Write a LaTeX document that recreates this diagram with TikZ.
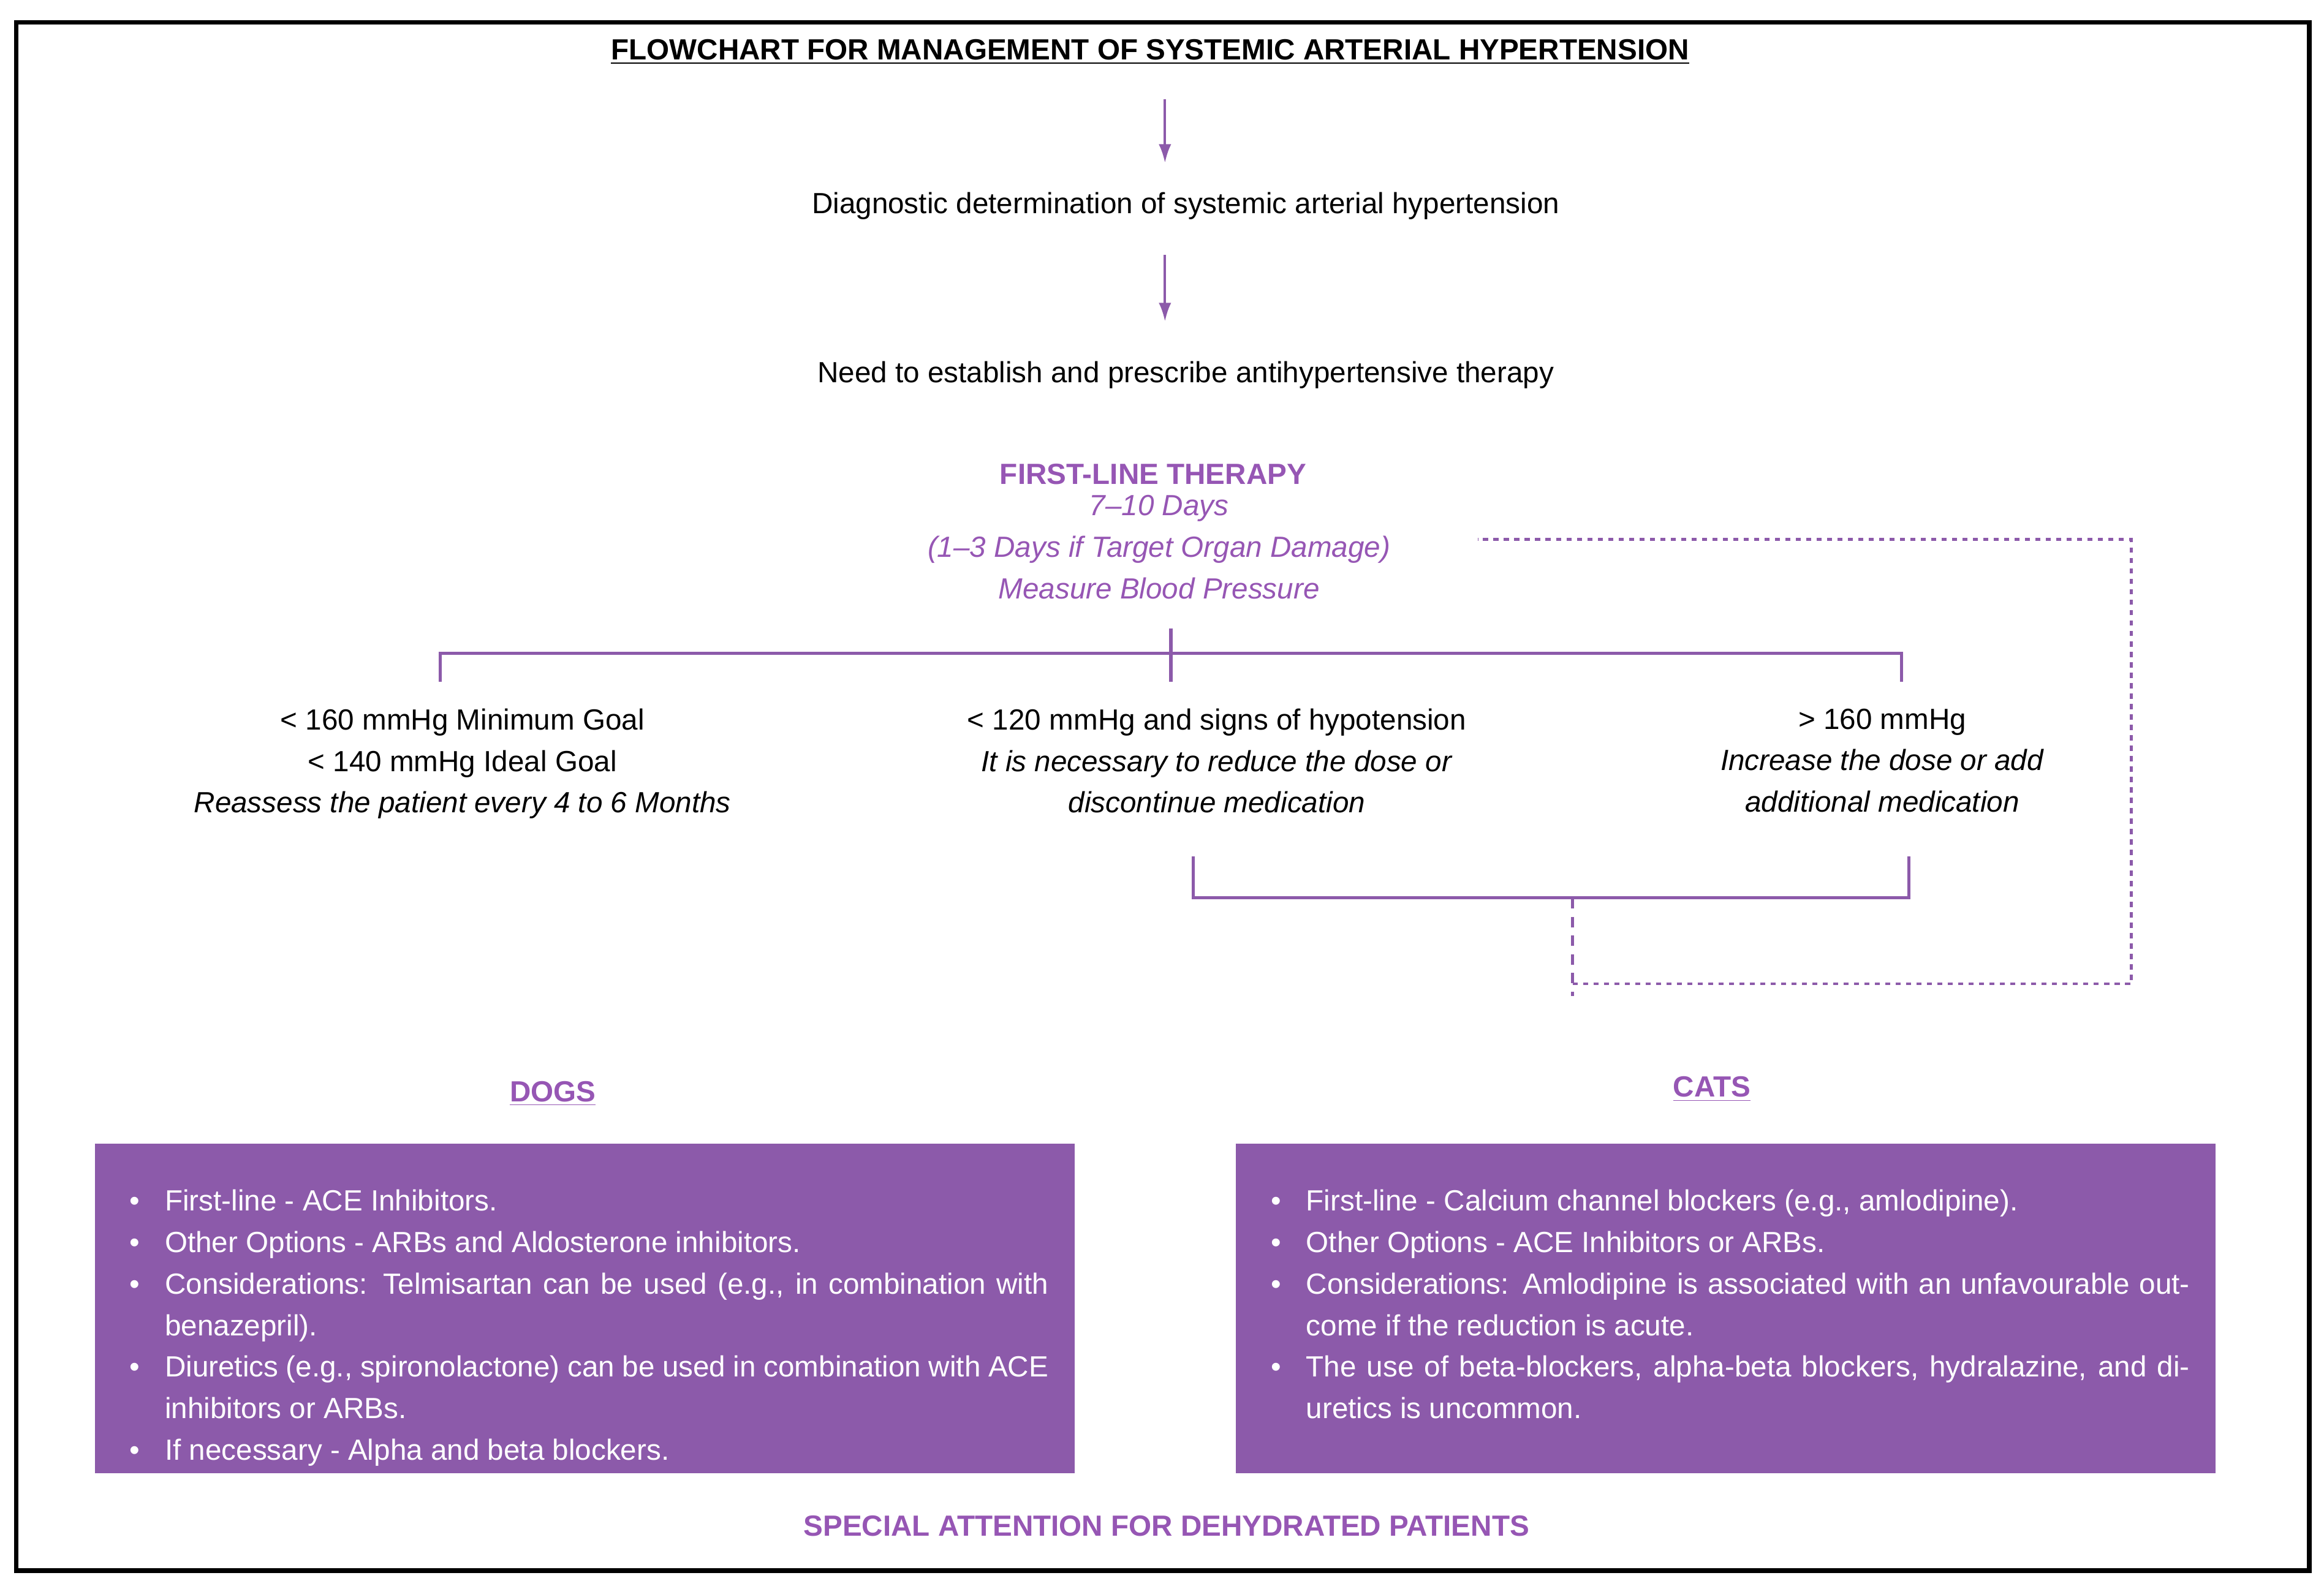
\documentclass[tikz,border=0pt]{standalone}
\usepackage{fontspec}
\setmainfont{Liberation Sans}
\usepackage{enumitem}
\usetikzlibrary{arrows.meta}
\definecolor{pbox}{HTML}{8C5AAA}
\definecolor{ptext}{HTML}{9656B4}
\begin{document}
\begin{tikzpicture}[x=0.025cm,y=-0.025cm,
  txt/.style={align=center,inner sep=0,font=\fontsize{14}{19.9}\selectfont},
  ptx/.style={txt,text=ptext},
  arr/.style={draw=pbox,line width=1.2pt,-{Latex[length=9pt,width=6pt]}},
  ln/.style={draw=pbox,line width=1.5pt},
  dt/.style={draw=pbox,line width=1.3pt,dash pattern=on 2.5pt off 2.5pt},
  dsh/.style={draw=pbox,line width=1.3pt,dash pattern=on 5pt off 4pt},
  box/.style={fill=pbox,draw=none},
  btxt/.style={anchor=north west,inner sep=0,text=white,text width=15.625cm,align=justify,font=\fontsize{14}{19.9}\selectfont}]
\useasboundingbox (0,0) rectangle (1568,1072);
\draw[line width=2.2pt] (11,15) rectangle (1558,1060);
\node[txt,font=\fontsize{14}{19.9}\selectfont\bfseries] (title) at (776,35) {\underline{FLOWCHART FOR MANAGEMENT OF SYSTEMIC ARTERIAL HYPERTENSION}};
\coordinate (a1) at (786,67);
\node[txt] (diag) at (800,139) {Diagnostic determination of systemic arterial hypertension};
\draw[arr] (a1) -- (786,110);
\coordinate (a2) at (786,172);
\draw[arr] (a2) -- (786,217);
\node[txt] (need) at (800,253) {Need to establish and prescribe antihypertensive therapy};
\node[ptx,font=\fontsize{14}{19.9}\selectfont\bfseries] (flt) at (778,320) {FIRST-LINE THERAPY};
\node[ptx,font=\fontsize{14}{19.9}\selectfont\itshape,anchor=north] (days) at (782,334) {7–10 Days\\(1–3 Days if Target Organ Damage)\\Measure Blood Pressure};
\coordinate (hl) at (297,441); \coordinate (hr) at (1283,441);
\coordinate (ct) at (790,424); \coordinate (cb) at (790,460);
\draw[ln] (297,460) -- (hl) -- (hr) -- (1283,460);
\draw[ln] (ct) -- (cb);
\node[txt,anchor=north] (left) at (312,478) {< 160 mmHg Minimum Goal\\< 140 mmHg Ideal Goal\\\textit{Reassess the patient every 4 to 6 Months}};
\node[txt,anchor=north] (mid) at (821,478) {< 120 mmHg and signs of hypotension\\\textit{It is necessary to reduce the dose or}\\\textit{discontinue medication}};
\node[txt,anchor=north] (right) at (1270,478) {> 160 mmHg\\\textit{Increase the dose or add}\\\textit{additional medication}};
\coordinate (bl) at (805,578); \coordinate (br) at (1288,578);
\draw[ln] (bl) -- (805,606) -- (1288,606) -- (br);
\coordinate (d0) at (1061,606); \coordinate (d1) at (1061,672);
\draw[dsh] (d0) -- (d1);
\coordinate (p1) at (1061,664); \coordinate (p2) at (1438,664);
\coordinate (p3) at (1438,364); \coordinate (p4) at (997,364);
\draw[dt] (p1) -- (p2) -- (p3) -- (p4);
\node[ptx,font=\fontsize{14}{19.9}\selectfont\bfseries] (dogs) at (373,738) {\underline{DOGS}};
\node[ptx,font=\fontsize{14}{19.9}\selectfont\bfseries] (cats) at (1155,735) {\underline{CATS}};
\fill[box] (64,772) rectangle (725,994);
\fill[box] (834,772) rectangle (1495,994);
\node[btxt] (dogt) at (82,789) {\begin{itemize}[leftmargin=0.725cm,itemsep=0pt,parsep=0pt,topsep=0pt,labelsep=12pt]
\item First-line - ACE Inhibitors.
\item Other Options - ARBs and Aldosterone inhibitors.
\item Considerations: Telmisartan can be used (e.g., in combination with benazepril).
\item Diuretics (e.g., spironolactone) can be used in combination with ACE inhibitors or ARBs.
\item If necessary - Alpha and beta blockers.
\end{itemize}};
\node[btxt] (catt) at (852,789) {\begin{itemize}[leftmargin=0.725cm,itemsep=0pt,parsep=0pt,topsep=0pt,labelsep=12pt]
\item First-line - Calcium channel blockers (e.g., amlodipine).
\item Other Options - ACE Inhibitors or ARBs.
\item Considerations: Amlodipine is associated with an unfavourable outcome if the reduction is acute.
\item The use of beta-blockers, alpha-beta blockers, hydralazine, and diuretics is uncommon.
\end{itemize}};
\node[ptx,font=\fontsize{14}{19.9}\selectfont\bfseries] (spec) at (787,1030) {SPECIAL ATTENTION FOR DEHYDRATED PATIENTS};
\end{tikzpicture}
\end{document}
